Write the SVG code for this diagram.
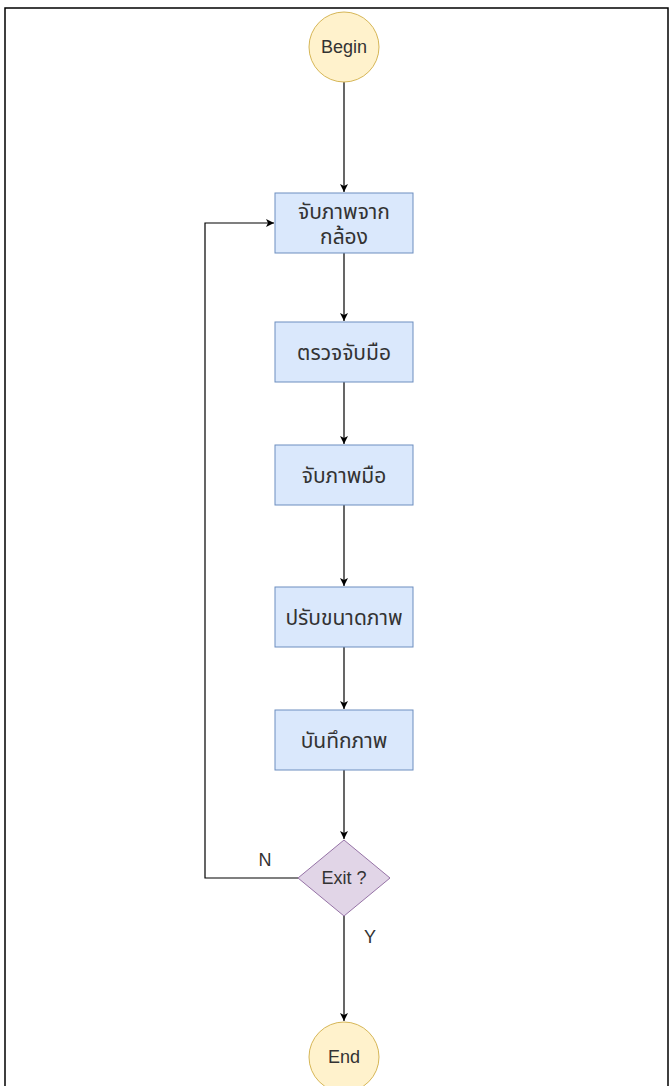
<svg xmlns="http://www.w3.org/2000/svg" width="670" height="1086" viewBox="0 0 670 1086">
<style>
.t{font-family:"Liberation Sans","Noto Sans Thai","Noto Sans",sans-serif;font-size:18px;fill:#333;text-anchor:middle;dominant-baseline:central}
.th{font-size:21px}
.term{fill:#fff2cc;stroke:#d6b656;stroke-width:1}
.proc{fill:#dae8fc;stroke:#6c8ebf;stroke-width:1}
.dec{fill:#e1d5e7;stroke:#9673a6;stroke-width:1}
.c{fill:none;stroke:#000;stroke-width:1.2}
</style>
<defs>
<marker id="a" markerWidth="10" markerHeight="10" refX="9" refY="5" orient="auto" markerUnits="userSpaceOnUse">
<path d="M1,1 L9,5 L1,9 L3,5 Z" fill="#000"/>
</marker>
</defs>
<rect width="670" height="1086" fill="#fff"/>
<path d="M5,1086 V8 H668 V1086" fill="none" stroke="#000" stroke-width="1.5"/>
<g id="connectors">
<path class="c" d="M344,82 V192" marker-end="url(#a)"/>
<path class="c" d="M344,253 V321" marker-end="url(#a)"/>
<path class="c" d="M344,382 V444" marker-end="url(#a)"/>
<path class="c" d="M344,505 V586" marker-end="url(#a)"/>
<path class="c" d="M344,647 V709" marker-end="url(#a)"/>
<path class="c" d="M344,770 V839" marker-end="url(#a)"/>
<path class="c" d="M298,878 H205 V223 H274" marker-end="url(#a)"/>
<path class="c" d="M344,916 V1021" marker-end="url(#a)"/>
<text class="t" x="265" y="860">N</text>
<text class="t" x="370" y="937">Y</text>
</g>
<g id="begin"><circle class="term" cx="344" cy="47" r="35"/><text class="t" x="344" y="47">Begin</text></g>
<g id="capture"><rect class="proc" x="275" y="193" width="138" height="60"/><text class="t th" x="344" y="211">จับภาพจาก</text><text class="t th" x="344" y="236">กล้อง</text></g>
<g id="detect"><rect class="proc" x="275" y="322" width="138" height="60"/><text class="t th" x="344" y="352">ตรวจจับมือ</text></g>
<g id="hand"><rect class="proc" x="275" y="445" width="138" height="60"/><text class="t th" x="344" y="475">จับภาพมือ</text></g>
<g id="resize"><rect class="proc" x="275" y="587" width="138" height="60"/><text class="t th" x="344" y="617">ปรับขนาดภาพ</text></g>
<g id="save"><rect class="proc" x="275" y="710" width="138" height="60"/><text class="t th" x="344" y="740">บันทึกภาพ</text></g>
<g id="exit"><path class="dec" d="M344,840 L390,878 L344,916 L298,878 Z"/><text class="t" x="344" y="878">Exit ?</text></g>
<g id="end"><circle class="term" cx="344" cy="1057" r="35"/><text class="t" x="344" y="1057">End</text></g>
</svg>
